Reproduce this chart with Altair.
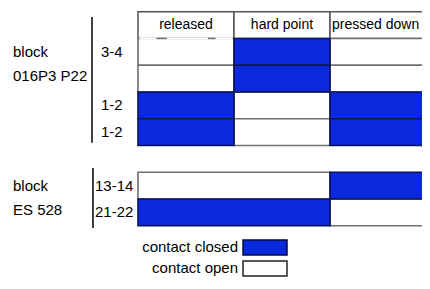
import altair as alt
import pandas as pd

# ---- data ----
columns = ["released", "hard point", "pressed down"]
block_names = ["block\n016P3 P22", "block\nES 528"]
block1_rows = ["3-4", "", "1-2", "1-2"]
block1_states = [[0, 1, 0], [0, 1, 0], [1, 0, 1], [1, 0, 1]]
block2_rows = ["13-14", "21-22"]
block2_states = [[0, 0, 1], [1, 1, 0]]
legend_labels = ["contact closed", "contact open"]
legend_states = [1, 0]

# ---- layout (code-side) ----
FONT = "Liberation Sans"
BLUE = "#0a28dc"
DARK = "#0b1650"
GRAY = "#707070"
col_edges = [0, 1, 2, 3.1]
VISIBLE_RIGHT = 2.95
xs = alt.Scale(domain=[0, 3], range=[130, 418], nice=False, zero=False)
ys = alt.Scale(domain=[-1, 9], range=[3.75, 271.25], nice=False, zero=False)

def X(f="x"):
    return alt.X(f"{f}:Q", scale=xs, axis=None)

def Y(f="y"):
    return alt.Y(f"{f}:Q", scale=ys, axis=None)

blocks = [
    dict(rows=block1_rows, states=block1_states, start=0, line=(-0.479, -0.8, 3.9)),
    dict(rows=block2_rows, states=block2_states, start=len(block1_rows) + 1, line=(-0.469, 4.84, 7.08)),
]

cells, labels, names, lines = [], [], [], []
for bi, b in enumerate(blocks):
    for ri, (lab, st) in enumerate(zip(b["rows"], b["states"])):
        r = b["start"] + ri
        c = 0
        while c < len(st):
            c2 = c
            while c2 + 1 < len(st) and st[c2 + 1] == st[c]:
                c2 += 1
            cells.append(dict(x=col_edges[c], x2=col_edges[c2 + 1], y=r, y2=r + 1,
                              state=st[c]))
            c = c2 + 1
        labels.append(dict(x=0, y=r + 0.5, label=lab, block=bi))
    names.append(dict(x=0, y=b["start"] + 0.5, label=block_names[bi]))
    lx, ly, ly2 = b["line"]
    lines.append(dict(x=lx, y=ly, y2=ly2))

cells_df = pd.DataFrame(cells).sort_values("state", kind="stable")
head_df = pd.DataFrame([dict(x=col_edges[i], x2=col_edges[i + 1], y=-1, y2=0,
                             xc=(col_edges[i] + min(col_edges[i + 1], VISIBLE_RIGHT)) / 2,
                             yc=-0.5, label=c)
                        for i, c in enumerate(columns)])
labels_df = pd.DataFrame(labels)
names_df = pd.DataFrame(names)
lines_df = pd.DataFrame(lines)

gaps_df = pd.DataFrame([dict(x=a, x2=b, y=-0.04, y2=0.04)
                        for a, b in [(0.016, 0.193), (0.302, 0.729), (0.807, 0.984)]])

leg_y = [7.813, 8.598]
leg_df = pd.DataFrame([dict(x=1.094, x2=1.552, y=yy - 0.28, y2=yy + 0.28, yc=yy,
                            label=l, state=s)
                       for l, s, yy in zip(legend_labels, legend_states, leg_y)])

fill_scale = alt.Scale(domain=[0, 1], range=["#ffffff", BLUE])
stroke_scale = alt.Scale(domain=[0, 1], range=[GRAY, DARK])

header = alt.Chart(head_df).mark_rect(fill="white", stroke="#555555", strokeWidth=1.5).encode(
    x=X(), x2="x2", y=Y(), y2="y2")
header_text = alt.Chart(head_df).mark_text(font=FONT, fontSize=14, color="black",
                                           baseline="middle", align="center").encode(
    x=X("xc"), y=Y("yc"), text="label:N")

cell_layer = alt.Chart(cells_df).mark_rect(strokeWidth=1.6).encode(
    x=X(), x2="x2", y=Y(), y2="y2",
    fill=alt.Fill("state:O", scale=fill_scale, legend=None),
    stroke=alt.Stroke("state:O", scale=stroke_scale, legend=None))

gap_layer = alt.Chart(gaps_df).mark_rect(fill="white").encode(
    x=X(), x2="x2", y=Y(), y2="y2")

lab1 = alt.Chart(labels_df[labels_df.block == 0]).mark_text(
    font=FONT, fontSize=15, align="left", baseline="middle", dx=-37, color="black").encode(
    x=X(), y=Y(), text="label:N")
lab2 = alt.Chart(labels_df[labels_df.block == 1]).mark_text(
    font=FONT, fontSize=15, align="left", baseline="middle", dx=-43, color="black").encode(
    x=X(), y=Y(), text="label:N")

name_layer = alt.Chart(names_df).mark_text(
    font=FONT, fontSize=15, align="left", baseline="middle", dx=-125, lineBreak="\n",
    lineHeight=24, color="black").encode(x=X(), y=Y(), text="label:N")

line_layer = alt.Chart(lines_df).mark_rule(color="black", strokeWidth=1.5).encode(
    x=X(), y=Y(), y2="y2")

leg_box = alt.Chart(leg_df).mark_rect(strokeWidth=1.5).encode(
    x=X(), x2="x2", y=Y(), y2="y2",
    fill=alt.Fill("state:O", scale=fill_scale, legend=None),
    stroke=alt.Stroke("state:O", scale=alt.Scale(domain=[0, 1], range=["#222222", "#000a40"]),
                      legend=None))
leg_text = alt.Chart(leg_df).mark_text(font=FONT, fontSize=15, align="right",
                                       baseline="middle", dx=-5, color="black").encode(
    x=X(), y=Y("yc"), text="label:N")

chart = alt.layer(header, cell_layer, gap_layer, header_text, lab1, lab2, name_layer,
                  line_layer, leg_box, leg_text).resolve_scale(
    fill="independent", stroke="independent").properties(
    width=414, height=269, padding=0, autosize="none", background="white"
).configure_view(stroke=None)

chart.save("out.html", embed_options={"renderer": "svg", "actions": False})
